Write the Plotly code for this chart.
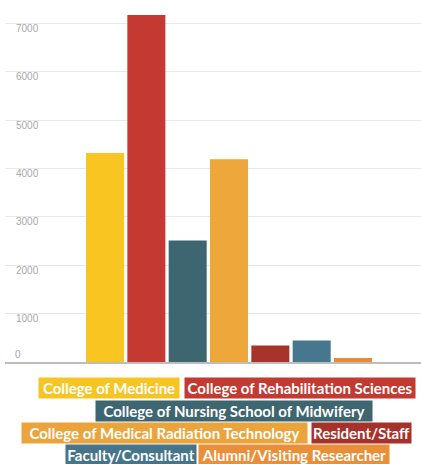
import plotly.graph_objects as go

categories = ["College of Medicine", "College of Rehabilitation Sciences",
              "College of Nursing School of Midwifery",
              "College of Medical Radiation Technology", "Resident/Staff",
              "Faculty/Consultant", "Alumni/Visiting Researcher"]
values = [4320, 7175, 2510, 4195, 340, 445, 85]
bar_colors = ["#F8C521", "#C43A33", "#3D6670", "#EEA73A", "#A8332A", "#46778E", "#E98A34"]
legend_colors = ["#F6C523", "#C23A31", "#3D6670", "#EBA43C", "#A6322B", "#46758A", "#E98F3A"]
tick_vals = [0, 1000, 2000, 3000, 4000, 5000, 6000, 7000]

W, H = 421, 464
ML, MR, MT, MB = 5, 0, 0, 102
pw, ph = W - ML - MR, H - MT - MB
tick_font = dict(family="Liberation Sans", size=10, color="#A8A8A8")

fig = go.Figure()
fig.add_trace(go.Bar(x=list(range(len(categories))), y=values,
                     marker=dict(color=bar_colors, line=dict(width=0)),
                     width=0.92, showlegend=False))

# legend boxes: (left px, right px, top px, bottom px)
boxes = [(39, 179, 378, 398), (185, 415, 378, 398),
         (96, 372, 401, 421), (22, 307, 423, 443), (312, 411, 423, 443),
         (66, 196, 445, 465), (199, 389, 445, 465)]
annotations = []
for name, col, (l, r, t, b) in zip(categories, legend_colors, boxes):
    cx = ((l + r) / 2 - ML) / pw
    cy = (MT + ph - (t + b) / 2) / ph
    annotations.append(dict(
        text="<b>" + name + "</b>", x=cx, y=cy, xref="paper", yref="paper",
        xanchor="center", yanchor="middle", showarrow=False,
        width=r - l, height=b - t, borderpad=0, bgcolor=col,
        font=dict(family="Lato", size=15, color="white"), align="center"))

# the zero tick label (plotly hides inside labels at the axis edge)
annotations.append(dict(text=str(tick_vals[0]), x=0, y=tick_vals[0], xref="paper",
                        yref="y", xanchor="left", yanchor="bottom", xshift=8,
                        yshift=0, showarrow=False, font=tick_font))

fig.update_layout(
    width=W, height=H, margin=dict(l=ML, r=MR, t=MT, b=MB),
    paper_bgcolor="white", plot_bgcolor="white",
    xaxis=dict(range=[-2.42, 7.645], showticklabels=False, showgrid=False,
               zeroline=False, showline=True, linecolor="#BDBDBD", linewidth=2),
    yaxis=dict(range=[0, 7486], tickvals=tick_vals, showgrid=True,
               gridcolor="#E8E8E8", gridwidth=1, zeroline=False,
               ticklabelposition="inside", ticklabelshift=5, ticklabelstandoff=8,
               tickfont=tick_font),
    bargap=0.08, annotations=annotations)

fig.write_html("out.html")
